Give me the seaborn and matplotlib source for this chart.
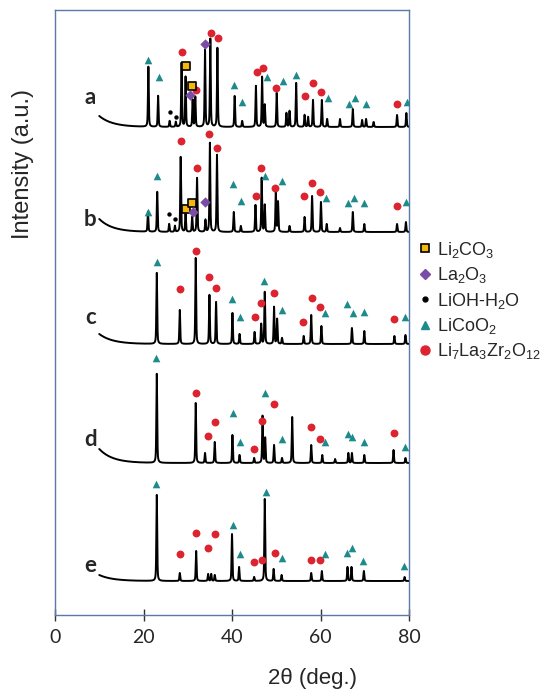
import numpy as np
import pandas as pd
import matplotlib.pyplot as plt
from matplotlib.lines import Line2D
import seaborn as sns

# sample names and baseline levels of the stacked patterns
samples = ["a", "b", "c", "d", "e"]
base_level = [488, 383, 271, 152, 34]
base_rise = [11, 13, 10, 14, 6]      # extra background at 10 deg
label_y = [518, 395, 298, 175, 50]

# peak positions (2theta) and heights
pos_a = [21.1, 23.3, 25.9, 27.3, 28.6, 29.5, 31.1, 31.7, 33.9, 35.1, 36.7, 40.6, 42.3, 45.4, 46.8, 47.4,
         50.1, 52.3, 53.0, 54.5, 56.4, 57.2, 58.3, 60.3, 61.5, 64.4, 67.3, 69.4, 70.3, 72.0, 77.3, 79.4]
h_a = [60, 31, 6, 5, 64, 50, 27, 30, 77, 88, 79, 31, 6, 41, 50, 22,
       34, 14, 16, 44, 12, 10, 27, 27, 8, 8, 18, 7, 8, 5, 12, 14]
pos_b = [21.0, 23.1, 25.8, 27.1, 28.4, 29.5, 31.0, 32.1, 34.0, 35.0, 36.6, 40.4, 42.0, 45.3, 46.7, 47.4,
         49.9, 50.4, 53.0, 56.4, 58.1, 60.1, 61.4, 64.4, 67.3, 69.9, 77.3, 79.3]
h_b = [20, 40, 8, 6, 75, 18, 15, 54, 12, 89, 77, 20, 6, 27, 54, 27,
       40, 30, 6, 15, 36, 30, 8, 4, 20, 8, 8, 10]
pos_c = [23.0, 28.2, 31.8, 34.9, 36.4, 40.1, 41.7, 45.1, 46.6, 47.4, 49.5, 50.2, 51.3, 56.2, 57.9, 60.2,
         67.1, 69.9, 76.7, 79.2]
h_c = [71, 34, 86, 49, 42, 31, 10, 12, 20, 52, 37, 25, 6, 8, 29, 18, 16, 13, 8, 9]
pos_d = [23.0, 31.8, 33.9, 36.1, 40.1, 41.7, 45.0, 46.9, 47.5, 49.5, 51.3, 53.6, 57.9, 60.4, 63.3, 66.3,
         67.1, 69.9, 76.5, 79.2]
h_d = [89, 60, 10, 21, 28, 8, 5, 47, 25, 18, 5, 46, 18, 8, 4, 10, 10, 8, 13, 5]
pos_e = [23.0, 28.2, 31.9, 34.6, 35.3, 36.1, 40.0, 41.6, 45.0, 47.4, 49.4, 51.2, 57.9, 60.3, 66.1, 67.0,
         69.8, 79.0]
h_e = [86, 8, 30, 7, 7, 6, 47, 14, 4, 82, 12, 6, 8, 10, 14, 14, 10, 4]

peak_pos = [pos_a, pos_b, pos_c, pos_d, pos_e]
peak_h = [h_a, h_b, h_c, h_d, h_e]

# phase markers
llzo_x = [28.6, 31.9, 35.2, 36.8, 45.7, 47.0, 50.0, 56.6, 58.4, 60.2, 77.4,
          28.4, 32.2, 34.9, 36.6, 45.4, 46.6, 49.7, 56.3, 58.1, 59.9, 77.3,
          28.2, 31.9, 34.8, 36.4, 45.2, 46.6, 49.6, 56.0, 58.1, 59.8, 76.6,
          31.8, 34.6, 36.1, 44.9, 46.8, 49.6, 57.9, 59.9, 76.5,
          28.2, 31.9, 34.6, 36.1, 44.9, 46.8, 49.8, 57.9, 59.9]
llzo_y = [563, 525, 582, 577, 543, 547, 527, 519, 532, 523, 511,
          474, 447, 481, 467, 419, 447, 427, 419, 432, 423, 409,
          326, 364, 338, 327, 298, 312, 322, 293, 317, 308, 296,
          222, 179, 193, 166, 194, 211, 188, 176, 182,
          61, 82, 67, 81, 53, 55, 62, 55, 55]
licoo2_x = [21.0, 23.4, 40.4, 42.3, 47.8, 51.5, 54.5, 61.6, 66.5, 67.8, 70.2, 79.5,
            21.0, 23.1, 40.2, 42.0, 47.5, 51.3, 61.3, 66.2, 67.5, 69.9, 79.3,
            23.1, 40.0, 41.8, 47.3, 51.3, 61.1, 66.1, 67.3, 69.9, 79.1,
            22.8, 40.2, 41.7, 47.5, 51.3, 61.1, 66.2, 67.2, 69.9, 79.2,
            22.8, 40.2, 41.7, 47.7, 51.2, 61.1, 66.0, 67.2, 69.7, 78.9]
licoo2_y = [555, 538, 530, 513, 538, 534, 540, 517, 511, 517, 511, 513,
            403, 439, 431, 414, 439, 434, 417, 412, 417, 412, 413,
            353, 316, 298, 334, 305, 302, 311, 302, 303, 298,
            257, 202, 173, 222, 176, 173, 181, 178, 173, 168,
            131, 90, 61, 123, 57, 61, 62, 67, 54, 49]
li2co3_x = [29.5, 31.0, 29.5, 31.0]
li2co3_y = [549, 529, 406, 412]
la2o3_x = [30.6, 33.9, 31.2, 34.0]
la2o3_y = [520, 571, 403, 413]
lioh_x = [25.9, 27.3, 25.8, 27.1]
lioh_y = [503, 498, 401, 396]

legend_labels = ["Li$_2$CO$_3$", "La$_2$O$_3$", "LiOH-H$_2$O", "LiCoO$_2$",
                 "Li$_7$La$_3$Zr$_2$O$_{12}$"]

red = "#dc2430"
teal = "#1d8a8c"
purple = "#7a4ca8"
yellow = "#f3b80a"
frame = "#5a78aa"

sns.set_theme(style="white")
plt.rcParams["font.family"] = ["Liberation Sans", "DejaVu Sans"]
plt.rcParams["mathtext.default"] = "regular"

# build patterns from the peak lists
tt = np.arange(10, 80.001, 0.01)
frames = []
for name, lvl, rise, pp, hh in zip(samples, base_level, base_rise, peak_pos, peak_h):
    y = lvl + rise * np.exp(-(tt - 10) / 3.0)
    for p, h in zip(pp, hh):
        gauss = np.exp(-0.5 * ((tt - p) / 0.09) ** 2)
        lor = 1 / (1 + ((tt - p) / 0.12) ** 2)
        y = y + h * (0.6 * gauss + 0.4 * lor)
    frames.append(pd.DataFrame({"two_theta": tt, "intensity": y, "sample": name}))
df = pd.concat(frames, ignore_index=True)

fig = plt.figure(figsize=(5.41, 6.91), dpi=100)
ax = fig.add_axes([55 / 541, 76 / 691, 354 / 541, 605 / 691])

sns.lineplot(data=df, x="two_theta", y="intensity", units="sample", estimator=None,
             color="black", lw=1.4, ax=ax, sort=False)

sns.scatterplot(x=llzo_x, y=llzo_y, color=red, s=32, marker="o", linewidth=0, ax=ax, zorder=3)
sns.scatterplot(x=licoo2_x, y=licoo2_y, color=teal, s=30, marker="^", linewidth=0, ax=ax, zorder=3)
sns.scatterplot(x=li2co3_x, y=li2co3_y, color=yellow, s=30, marker="s", edgecolor="black",
                linewidth=1.2, ax=ax, zorder=3)
sns.scatterplot(x=la2o3_x, y=la2o3_y, color=purple, s=28, marker="D", linewidth=0, ax=ax, zorder=3)
sns.scatterplot(x=lioh_x, y=lioh_y, color="black", s=10, marker="o", linewidth=0, ax=ax, zorder=3)

for name, ly in zip(samples, label_y):
    ax.text(8.0, ly, name, fontsize=16, fontweight="bold", family="Lato",
            ha="center", va="center")

ax.set_xlim(0, 80)
ax.set_ylim(0, 605)
ax.set_xticks([0, 20, 40, 60, 80])
ax.set_yticks([])
for lab in ax.get_xticklabels():
    lab.set_family("Lato")
ax.tick_params(axis="x", direction="inout", length=8, width=1, color="#333333",
               labelsize=14, pad=6, bottom=True)
for sp in ax.spines.values():
    sp.set_color(frame)
    sp.set_linewidth(1)

ax.set_xlabel("2\u03b8 (deg.)", fontsize=16)
ax.xaxis.set_label_coords(0.727, -0.087)
ax.set_ylabel("Intensity (a.u.)", fontsize=17)
ax.yaxis.set_label_coords(-0.06, 0.745)

handles = [
    Line2D([], [], ls="none", marker="s", ms=6, mfc=yellow, mec="black", mew=1.2),
    Line2D([], [], ls="none", marker="D", ms=5, mfc=purple, mec=purple),
    Line2D([], [], ls="none", marker="o", ms=3.5, mfc="black", mec="black"),
    Line2D([], [], ls="none", marker="^", ms=6, mfc=teal, mec=teal),
    Line2D([], [], ls="none", marker="o", ms=6.5, mfc=red, mec=red),
]
ax.legend(handles, legend_labels, loc="upper left", bbox_to_anchor=(0.776, 0.653),
          bbox_transform=fig.transFigure, frameon=False, fontsize=13,
          handlelength=0.6, handletextpad=0.35, labelspacing=0.3,
          borderpad=0, borderaxespad=0)

fig.savefig("out.png", dpi=100)
